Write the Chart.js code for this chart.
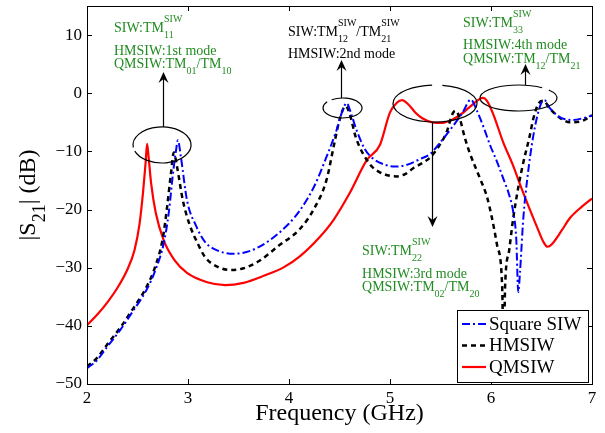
<!DOCTYPE html>
<html>
<head>
<meta charset="utf-8">
<script src="https://cdn.jsdelivr.net/npm/chart.js@4.4.1/dist/chart.umd.min.js"></script>
<style>
  html, body { margin: 0; padding: 0; background: #fff; }
  #wrap { width: 605px; height: 433px; }
</style>
</head>
<body>
<div id="wrap"><canvas id="s21Chart" width="605" height="433"></canvas></div>
<script>
// values (frequency in GHz, |S21| in dB)
const squareFreq = [2.0, 2.1, 2.2, 2.33, 2.45, 2.59, 2.68, 2.76, 2.81, 2.85, 2.88, 2.9, 2.93, 2.99, 3.08, 3.17, 3.3, 3.45, 3.6, 3.8, 4.0, 4.11, 4.25, 4.37, 4.47, 4.53, 4.57, 4.62, 4.67, 4.75, 4.83, 4.95, 5.05, 5.15, 5.3, 5.4, 5.5, 5.6, 5.72, 5.8, 5.86, 5.93, 5.99, 6.06, 6.12, 6.18, 6.22, 6.25, 6.27, 6.287, 6.32, 6.36, 6.42, 6.49, 6.53, 6.58, 6.68, 6.81, 6.91, 7.0];
const squareDb   = [-47.3, -45.9, -43.6, -40.7, -37.6, -33.8, -30.3, -25.8, -20.5, -14, -10, -8.1, -11, -18.4, -22.8, -25.6, -27.1, -27.6, -27.2, -25.4, -22.4, -20.1, -16, -11, -6.4, -3, -1.7, -3.8, -6.4, -9.6, -11.2, -12.3, -12.6, -12.4, -11.3, -10.4, -8.4, -6.2, -3.3, -1.1, -3, -6, -8.9, -11.8, -14.6, -17.5, -20.4, -25, -34.2, -30.8, -21.5, -14.6, -7.2, -2, -1.2, -2.5, -4.1, -4.6, -4.3, -3.8];

const hmsiwFreq = [2.0, 2.1, 2.2, 2.33, 2.45, 2.59, 2.68, 2.75, 2.79, 2.83, 2.86, 2.89, 2.95, 3.02, 3.09, 3.17, 3.3, 3.42, 3.55, 3.7, 3.9, 4.11, 4.25, 4.37, 4.45, 4.5, 4.56, 4.6, 4.66, 4.73, 4.82, 4.9, 5.0, 5.07, 5.15, 5.23, 5.32, 5.4, 5.48, 5.56, 5.62, 5.65, 5.69, 5.74, 5.79, 5.89, 5.96, 6.01, 6.06, 6.11, 6.125, 6.14, 6.18, 6.22, 6.27, 6.32, 6.38, 6.42, 6.47, 6.52, 6.58, 6.68, 6.78, 6.88, 7.0];
const hmsiwDb   = [-47, -45.5, -43.2, -40.3, -37.2, -33.3, -29.6, -25, -20, -14, -10.2, -12.5, -18.5, -22.8, -25.6, -28.2, -29.9, -30.4, -30.1, -28.9, -26.2, -23.3, -19.8, -15, -8.5, -4.6, -2.2, -3.5, -7.5, -10.3, -12.6, -13.6, -14.2, -14.3, -13.9, -12.9, -12, -11, -9.2, -6.7, -3.5, -3, -4.3, -7.6, -10.3, -14.6, -17.8, -21.5, -26.1, -33, -45, -33, -27, -21.5, -16.2, -11.9, -7.6, -4.3, -1.8, -1.3, -2.6, -4.2, -5, -4.9, -3.8];

const qmsiwFreq = [2.0, 2.1, 2.2, 2.3, 2.4, 2.47, 2.52, 2.555, 2.58, 2.595, 2.61, 2.635, 2.68, 2.76, 2.87, 2.99, 3.19, 3.37, 3.55, 3.75, 3.95, 4.11, 4.3, 4.44, 4.6, 4.77, 4.9, 5.0, 5.07, 5.12, 5.18, 5.25, 5.32, 5.42, 5.52, 5.62, 5.72, 5.82, 5.92, 5.96, 6.02, 6.12, 6.22, 6.29, 6.38, 6.46, 6.52, 6.56, 6.6, 6.7, 6.78, 6.9, 7.0];
const qmsiwDb   = [-39.9, -38.1, -36, -33.5, -30.3, -27, -22.5, -17, -12, -8.7, -11, -15.5, -20.5, -25.3, -28.8, -30.9, -32.5, -33, -32.6, -31.4, -29.9, -28.0, -24.8, -21.8, -17.2, -11.5, -8.9, -3.3, -1.6, -1.2, -1.9, -3.3, -4.3, -5, -5.1, -4.5, -3.4, -1.9, -0.8, -1.3, -3.5, -8.4, -12.5, -15.8, -19.8, -23.2, -25.6, -26.4, -26, -23.6, -21.5, -19.5, -18.1];

const seriesNames = ['Square SIW', 'HMSIW', 'QMSIW'];
const xTicks = [2, 3, 4, 5, 6, 7];
const yTicks = [-50, -40, -30, -20, -10, 0, 10];

const SERIF = '"Liberation Serif", "Times New Roman", serif';
const GREEN = '#228b22';

// mode markers: ellipses, arrows and their notes (centres in data units, sizes in px)
const rings = [
  { x: 2.743, y: -8.9, rx: 29, ry: 18, gapFrom: 160, gapTo: 172 },
  { x: 4.53, y: -2.54, rx: 19.5, ry: 10, gapFrom: 218, gapTo: 236 },
  { x: 5.446, y: -1.77, rx: 42, ry: 18.5, gapFrom: 266, gapTo: 280 },
  { x: 6.272, y: -0.82, rx: 38.5, ry: 13, gapFrom: 308, gapTo: 322 }
];
const arrows = [
  { x: 2.752, from: -5.8, to: 3.65 },
  { x: 4.515, from: -0.82, to: 5.71 },
  { x: 5.416, from: -4.95, to: -23.0 },
  { x: 6.337, from: 1.41, to: 5.03 }
];
const notes = [
  { x: 2.267, y: 10.53, color: GREEN, dy: [0, 23, 36], lines: [
    ['SIW:', { t: 'TM', sub: '11', sup: 'SIW' }],
    ['HMSIW:1st mode'],
    ['QMSIW:', { t: 'TM', sub: '01' }, '/', { t: 'TM', sub: '10' }]
  ]},
  { x: 3.99, y: 9.84, color: '#000', dy: [0, 22], lines: [
    ['SIW:', { t: 'TM', sub: '12', sup: 'SIW' }, '/', { t: 'TM', sub: '21', sup: 'SIW' }],
    ['HMSIW:2nd mode']
  ]},
  { x: 4.723, y: -27.82, color: GREEN, dy: [0, 23, 36], lines: [
    ['SIW:', { t: 'TM', sub: '22', sup: 'SIW' }],
    ['HMSIW:3rd mode'],
    ['QMSIW:', { t: 'TM', sub: '02' }, '/', { t: 'TM', sub: '20' }]
  ]},
  { x: 5.723, y: 11.39, color: GREEN, dy: [0, 22, 36], lines: [
    ['SIW:', { t: 'TM', sub: '33', sup: 'SIW' }],
    ['HMSIW:4th mode'],
    ['QMSIW:', { t: 'TM', sub: '12' }, '/', { t: 'TM', sub: '21' }]
  ]}
];

function toPoints(xs, ys) {
  return xs.map((x, i) => ({ x: x, y: ys[i] }));
}

// text with TeX-like stacked sub/superscripts; returns width
function drawRich(ctx, x, y, parts, size, color, subSize, dry) {
  const small = subSize || Math.round(size * 0.72);
  let cx = x;
  ctx.fillStyle = color;
  ctx.textAlign = 'left';
  ctx.textBaseline = 'alphabetic';
  parts.forEach(p => {
    if (typeof p === 'string') p = { t: p };
    ctx.font = size + 'px ' + SERIF;
    if (!dry) ctx.fillText(p.t, cx, y);
    cx += ctx.measureText(p.t).width;
    let w = 0;
    ctx.font = small + 'px ' + SERIF;
    if (p.sub) {
      if (!dry) ctx.fillText(p.sub, cx, y + size * 0.43);
      w = Math.max(w, ctx.measureText(p.sub).width);
    }
    if (p.sup) {
      if (!dry) ctx.fillText(p.sup, cx, y - size * 0.72);
      w = Math.max(w, ctx.measureText(p.sup).width);
    }
    cx += w;
  });
  return cx - x;
}

function drawArrow(ctx, x, y0, y1) {
  const dir = y1 < y0 ? -1 : 1;
  ctx.beginPath();
  ctx.moveTo(x, y0);
  ctx.lineTo(x, y1 - dir * 4);
  ctx.stroke();
  ctx.beginPath();
  ctx.moveTo(x, y1);
  ctx.lineTo(x - 5, y1 - dir * 11);
  ctx.lineTo(x, y1 - dir * 7);
  ctx.lineTo(x + 5, y1 - dir * 11);
  ctx.closePath();
  ctx.fill();
}

const decorations = {
  id: 'decorations',
  afterDatasetsDraw(chart) {
    const ctx = chart.ctx;
    const xs = chart.scales.x, ys = chart.scales.y;
    const area = chart.chartArea;
    const deg = Math.PI / 180;
    ctx.save();

    // ellipses and arrows
    ctx.strokeStyle = '#000';
    ctx.fillStyle = '#000';
    ctx.lineWidth = 1.2;
    rings.forEach(r => {
      ctx.beginPath();
      ctx.ellipse(xs.getPixelForValue(r.x), ys.getPixelForValue(r.y), r.rx, r.ry, 0,
        r.gapTo * deg, (r.gapFrom + 360) * deg);
      ctx.stroke();
    });
    arrows.forEach(a => {
      drawArrow(ctx, Math.round(xs.getPixelForValue(a.x)) + 0.5,
        ys.getPixelForValue(a.from), ys.getPixelForValue(a.to));
    });

    // notes
    notes.forEach(n => {
      const px = xs.getPixelForValue(n.x), py = ys.getPixelForValue(n.y);
      n.lines.forEach((ln, i) => drawRich(ctx, px, py + n.dy[i], ln, 14, n.color, 10));
    });

    // box and inward ticks on all four sides
    ctx.strokeStyle = '#000';
    ctx.lineWidth = 1;
    ctx.strokeRect(Math.round(area.left) + 0.5, Math.round(area.top) + 0.5,
      Math.round(area.right - area.left), Math.round(area.bottom - area.top));
    ctx.beginPath();
    xTicks.forEach(v => {
      const p = Math.round(xs.getPixelForValue(v)) + 0.5;
      ctx.moveTo(p, area.bottom); ctx.lineTo(p, area.bottom - 5);
      ctx.moveTo(p, area.top); ctx.lineTo(p, area.top + 5);
    });
    yTicks.forEach(v => {
      const p = Math.round(ys.getPixelForValue(v)) + 0.5;
      ctx.moveTo(area.left, p); ctx.lineTo(area.left + 5, p);
      ctx.moveTo(area.right, p); ctx.lineTo(area.right - 5, p);
    });
    ctx.stroke();

    // legend
    const lx = 457.5, ly = 310.5, lw = 131, lh = 72;
    ctx.fillStyle = '#fff';
    ctx.fillRect(lx, ly, lw, lh);
    ctx.strokeRect(lx, ly, lw, lh);
    chart.data.datasets.forEach((ds, i) => {
      const cy = 324 + i * 21.5;
      ctx.save();
      ctx.strokeStyle = ds.borderColor;
      ctx.lineWidth = ds.borderWidth;
      ctx.setLineDash(ds.borderDash || []);
      ctx.beginPath();
      ctx.moveTo(462, cy); ctx.lineTo(486, cy);
      ctx.stroke();
      ctx.restore();
      ctx.fillStyle = '#000';
      ctx.font = '19px ' + SERIF;
      ctx.textAlign = 'left';
      ctx.textBaseline = 'middle';
      ctx.fillText(ds.label, 489, cy + 1);
    });

    // y axis title |S21| (dB)
    const yLabel = ['|S', { t: '', sub: '21' }, '| (dB)'];
    ctx.translate(35, (area.top + area.bottom) / 2);
    ctx.rotate(-Math.PI / 2);
    const w = drawRich(ctx, 0, 0, yLabel, 24, '#000', 18, true);
    drawRich(ctx, -w / 2, 0, yLabel, 24, '#000', 18);
    ctx.restore();
  }
};

const minusFmt = v => (v < 0 ? '\u2212' + Math.abs(v) : String(v));

new Chart(document.getElementById('s21Chart'), {
  type: 'line',
  data: {
    datasets: [
      {
        label: seriesNames[0],
        data: toPoints(squareFreq, squareDb),
        borderColor: '#0000ff',
        borderWidth: 2,
        borderDash: [8, 3, 2, 3],
        pointRadius: 0,
        cubicInterpolationMode: 'monotone',
        fill: false
      },
      {
        label: seriesNames[1],
        data: toPoints(hmsiwFreq, hmsiwDb),
        borderColor: '#000000',
        borderWidth: 2.5,
        borderDash: [5, 4],
        pointRadius: 0,
        cubicInterpolationMode: 'monotone',
        fill: false
      },
      {
        label: seriesNames[2],
        data: toPoints(qmsiwFreq, qmsiwDb),
        borderColor: '#ff0000',
        borderWidth: 2.2,
        pointRadius: 0,
        cubicInterpolationMode: 'monotone',
        fill: false
      }
    ]
  },
  options: {
    responsive: false,
    animation: false,
    devicePixelRatio: 1,
    layout: { padding: { top: 6, right: 13, left: 0, bottom: 0 } },
    plugins: { legend: { display: false }, tooltip: { enabled: false } },
    scales: {
      x: {
        type: 'linear',
        min: 2,
        max: 7,
        afterBuildTicks: s => { s.ticks = xTicks.map(v => ({ value: v })); },
        afterFit: s => { s.height = 49; s.paddingLeft = 0; s.paddingRight = 0; },
        grid: { display: false, drawTicks: false },
        border: { display: false },
        ticks: { color: '#000', padding: 4, font: { family: SERIF, size: 17 }, maxRotation: 0 },
        title: {
          display: true,
          text: 'Frequency (GHz)',
          color: '#000',
          font: { family: SERIF, size: 24 },
          padding: { top: 0, bottom: 5 }
        }
      },
      y: {
        type: 'linear',
        min: -50,
        max: 15,
        afterBuildTicks: s => { s.ticks = yTicks.map(v => ({ value: v })); },
        afterFit: s => { s.width = 87; s.paddingTop = 0; s.paddingBottom = 0; },
        grid: { display: false, drawTicks: false },
        border: { display: false },
        ticks: { color: '#000', padding: 5, font: { family: SERIF, size: 17 }, callback: minusFmt }
      }
    }
  },
  plugins: [decorations]
});
</script>
</body>
</html>
